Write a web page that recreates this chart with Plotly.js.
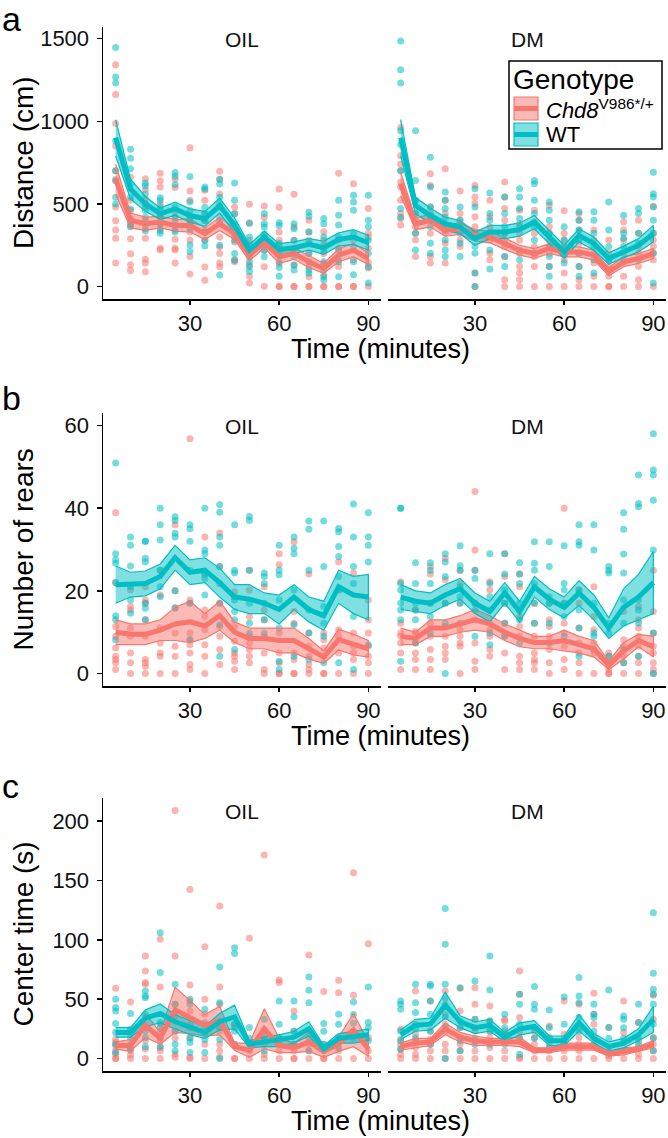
<!DOCTYPE html>
<html><head><meta charset="utf-8">
<script src="https://cdn.plot.ly/plotly-3.0.1.min.js"></script>
<style>html,body{margin:0;padding:0;background:#fff}#chart{width:668px;height:1138px}</style>
</head><body><div id="chart"></div>
<script>
// ---------- DATA ----------
const timeMin = [5,10,15,20,25,30,35,40,45,50,55,60,65,70,75,80,85,90];
const treatments = ["OIL","DM"];
const genotypes = ["Chd8<sup>V986*/+</sup>","WT"];

// Panel a: Distance (cm)
const distOilWT = [[1446,1268,1232,880,700,640,540,500],[830,776,712,620,540,470,380,362],[626,610,560,500,460,420,380,336],[538,520,480,460,420,380,340,322],[690,668,618,480,420,392,342,330],[666,512,460,420,380,350,252,212],[602,590,480,440,400,330,280,246],[648,620,540,500,420,380,250,70],[626,522,440,380,320,280,200,160],[382,300,260,220,180,150,120,92],[442,380,360,320,250,220,180],[386,370,260,200,150,116,62],[380,350,280,230,180,130,100],[450,426,330,260,200,150,100,80],[412,380,300,220,150,100,60,40],[522,432,372,300,220,150,60],[552,512,462,322,240,150,72],[552,402,362,280,200,120,22]];
const distOilMut = [[1342,1162,986,850,700,648,482,398,342,292,142],[662,522,460,412,366,290,198,132,98],[652,586,530,480,400,350,292,166,142,90],[686,640,602,498,430,380,352,232,222],[650,600,460,422,370,286,232,222,142],[840,578,522,400,380,330,280,182,76],[582,522,440,400,340,280,118,38],[698,650,560,480,400,300,240,200,142,120],[482,440,346,300,270,162,150],[498,386,280,230,130,62,22],[488,420,300,260,220,120,2],[590,480,330,280,250,140,0,0],[558,360,280,230,130,0,0],[402,330,280,200,120,60,0,0],[332,280,250,200,140,70,0,0],[686,282,232,162,122,0,0],[622,282,162,0,0],[472,322,300,232,142,112,0]];
const distDmWT = [[1486,1312,1232,942,860,700,472,420],[942,642,522,440,322,222],[782,602,482,430,362,262,202],[572,522,472,420,342,282,222,182],[482,402,322,262,182],[592,482,322,242,202,82,0],[566,442,402,322,222,106],[542,442,362,322,182,122],[592,542,472,412,362,222,162],[642,622,522,442,362,282,202],[512,462,402,322,242,182,122,62],[362,282,202,142],[452,402,342,282,202,122,62],[452,402,322,242,162,82],[512,342,242,162],[432,322,292,242,162],[472,442,322,262,162],[692,562,542,482,402,322,202,22]];
const distDmMut = [[962,792,742,702,632,602,522,442,412,372],[522,442,402,362,322,282,182],[682,612,482,442,402,322,182,142],[712,522,442,382,322,262,142],[578,442,402,362,282,242],[612,542,502,422,362,322,82,0],[522,422,362,282,202,162],[632,542,472,402,322,282,242,182,42,0],[462,382,322,282,202,122,82,42,0],[462,392,322,242,182,122,0],[492,362,322,282,242,202,122,0],[458,322,282,242,162,82,0],[442,402,342,262,202,122,42,0],[342,282,202,142,62,0],[282,202,162,122,62,0,0],[392,342,282,202,142,62,0],[402,322,242,202,122,42,0],[486,322,282,242,202,162,0]];
const distOilWTMean = [900,590,500,440,470,430,410,490,370,220,300,225,235,255,235,285,300,265];
const distOilWTSE   = [110,60,45,35,40,40,45,45,45,35,35,35,35,35,40,40,45,45];
const distOilMutMean = [650,400,380,390,370,370,320,380,320,190,270,180,200,150,110,190,220,170];
const distOilMutSE   = [90,45,40,35,35,40,35,40,35,35,35,40,35,35,30,40,40,35];
const distDmWTMean = [900,490,430,380,360,290,330,330,345,390,300,210,310,260,170,210,250,320];
const distDmWTSE   = [110,50,45,40,40,40,40,40,40,40,40,40,40,40,35,35,40,50];
const distDmMutMean = [620,380,400,340,350,310,300,260,220,200,230,210,210,190,90,150,170,200];
const distDmMutSE   = [70,35,40,35,35,35,35,35,30,30,30,30,30,30,25,30,30,30];

// Panel b: Number of rears
const rearOilWT = [[50.9,29,27.5,26.7,22,14,13,8.2],[33,31,26,21,17.8,14.6],[32,32,27.9,27,17,15.8,13],[40,36,32.3,25,21,18.6],[37.9,37,33.9,33,20,15.8],[36,35,32,25,17,8.2],[40,29.9,29,24.3,23,19],[40.9,39,33,31,25.9,21.8,17,11.8,4.2],[36,25,24.3,17.8,15,13,5.8],[38,37,25,17,12.2,9.8],[24.3,23.5,21.8,17,13,9.8],[31,25,23.9,17.8,11,3,1],[33,30.3,29,20.2,11.8,4.2],[36.9,34.9,25,15.4,9.8,3.4],[36.9,25.9,16.2,12.2,9,2.6],[35.1,34.3,30.7,28.3,23.5,20.2,2.6],[41,33,25.9,21.8,13.8,1],[38.9,33,31,27,7]];
const rearOilMut = [[38.9,22,11.4,9,6.2,4.2,3.4,2.6,1],[20.2,16.2,15.4,11,9,5,2.6,0],[21,17.8,17,13,9,3.4,2.6,1.8,0],[25,19,11,7.4,5,4.2,0],[36,20,16,9.8,6.6,4.2,0],[56.8,17.8,17,9.8,8.2,7,5,2.2,1],[33,23.9,15.4,13.8,10.6,7,4.2,0],[34,25.9,17,11.4,9,5.8,2.2],[19.8,18.6,11.4,7.8,5,4.2,3,1],[25,20.2,13.8,9,7.4,5.8,4.2,2.6],[21,15.4,13,9,5,1,0],[29,26.3,9.8,5,2.6,0,0],[31.9,15,12.2,5,3.4,0,0],[24.1,9.8,6.6,4.2,2.2,1,0],[9.8,8.2,6.2,4.2,0,0],[27,20.2,10.6,9,5,0],[24.3,9.8,6.6,5,3.4,0],[17.8,13,9.8,6.6,4.2,2.6,0]];
const rearDmWT = [[40,40,21.8,20.2,17,15.4,13,3],[26.8,21.8,17,15.4,13,7.4],[26.8,25,21.8,17,13.8,9.8],[29,27,23.5,17,12.2,0],[30.9,26.1,25,21,18.6,17,12.2],[25,23,17,15.4,9],[29,21.8,18.6,15.4,9.8,7],[29,24.1,20.2,17,12.2,9],[26.8,24.1,21.8,17,13,7.4],[31.9,26.7,25,21.8,17,12.2],[31.9,25.9,18.6,17,12.2,7.4],[30.9,21.8,20.2,17,13.8,9],[36,31.9,31,20.2,15.4,11,4.2],[36,29.9,17,9.8,9,5.8],[25.9,25,24.3,12.2,9.8,4.2],[38.9,34.9,28.9,24.3,17.8,12.2,5.8,2.6],[48,41.1,40.3,17.8,15.4,12.2,4.2],[58,49.2,48,41.9,29.9,9.8,0]];
const rearDmMut = [[22.2,12.2,9.8,9,7.4,5,1],[15.4,10.2,9.8,7.4,5,3.4,1],[25.9,24.1,17,12.2,9,5.8,3.4,1],[27.9,22.7,17,11.4,9,6.6,5,3.4],[25,21.8,17,10.6,9,7.4,6.6,0],[44,29.9,25,17,13,7.4,3,1],[22.2,20.2,12.2,10.6,9,5.8,4.2],[29,23.5,17,12.2,9,5,1],[24.1,21,13.8,11.4,9,4.2,2.6,1],[17,12.2,9,5,3.4,2.6,1],[17,13,11.4,9,5.8,2.6,0],[40,17,12.2,9.8,6.6,3.4,1],[20.2,17,11,7.4,5,2.6,0],[21,13.8,10.6,7.4,5,0],[5,4.2,2.6,1,0,0],[15,8.2,6.6,4.2,2.6,0],[16.2,13,11,9,6.6,4.2,2.6,0],[25,15,9.8,6.6,5,2.6,1,0]];
const rearOilWTMean = [21.5,21.5,21.8,23.5,28,24.5,25,22,18.5,18,17,15.5,18.5,15.5,14,21,19,18.5];
const rearOilWTSE   = [4.5,3,3,3,3,3,3,3.5,3,3.5,2.5,3.5,3,3,3.5,4,4.5,5.5];
const rearOilMutMean = [10,9.5,9.5,10.5,12,12.5,11.5,14,10,8.5,8.5,8,8,6,4,8.2,7,6];
const rearOilMutSE   = [3,2.5,2.5,2.5,4,5,3,3.5,2.5,2.5,2.5,3,3,2.5,1.5,2.5,2.5,2];
const rearDmWTMean = [18.5,17.5,17,19,20.5,17,15,19.5,15,21,18,16,19.5,16,11,16,18.5,22];
const rearDmWTSE   = [3,2.5,2.5,2.5,2.5,2.5,2.5,2.5,2.5,2.5,2.5,2.5,3,3,2.5,4.5,5.5,7.5];
const rearDmMutMean = [9,8.5,11,11,12,13,12,10,8.5,7.5,7.5,8,7,6,2,5.5,8,6.5];
const rearDmMutSE   = [2,1.5,2,2,2,2.5,2,2,2,1.5,1.5,2.5,2,2,1,2,1.5,2.5];

// Panel c: Center time (s)
const centOilWT = [[50,42.9,40.1,29.5,22,12,5],[37.9,24.7,17.7,12,8],[56.9,52.7,51.3,37.3,23.3,17.7,10],[106,72.4,30.3,26.1,17.7,10],[62.6,45.7,23,12,6.5],[50,45.7,26,17,13.5,5],[41.5,30.3,23,16,5],[77.1,47.1,26.1,16,0],[93.4,88.4,28.9,23,12],[26.1,17,8],[33.1,17,6.5],[48.5,28.9,17,12],[48.5,35.1,23,12],[68.7,57.5,47.1,17,6.5],[29.5,23,12],[37.3,28.9,17,9],[47.7,37,30,17],[60.3,30.3,26,15]];
const centOilMut = [[59.2,16.3,13.5,10.7,6.5,3.6,0,0],[47.7,23.8,9.3,6.5,3,0],[86.4,73.8,64,62.6,26,14.9,8,0],[100.4,60.3,28.9,23.3,14.9,9.3,6.5,0],[209,86.4,45.7,35.9,23,17,3.6,1],[142.5,62,48.5,40,28.9,17.7,1,0],[94.2,50,37.3,28,22,12,0],[128.5,60.3,45.7,23,12,6.5,1],[28.9,26.1,12,0,0],[101.3,12,6.5,0],[171.4,23.3,20.5,14.9,12,3.6,0],[66.2,64,17.7,12,6.5,0],[40.1,23,12,6.5,0,0],[87.2,23,12,6.5,0],[56.4,12,6.5,0,0],[65.9,55.5,17.7,6.5,0],[156.5,53.3,23,0],[96.8,17.7,6.5,0]];
const centDmWT = [[48.5,45.7,41.5,23.3,15,8],[62.6,47.1,38.7,25,17],[62.6,61.1,48.5,37.3,23,12],[126.5,96.2,62.6,51.3,35,26,0],[59.7,31.7,26,15,6.5],[65.4,33.1,26,17,12],[86.4,57.8,31.7,23,12],[37.3,26,20.5,12],[54.1,45.7,29,17,3.6],[60.6,45.7,41.5,26,17],[40.9,26.1,17,9],[51.9,28.9,17,10.5],[68.2,52.7,47.1,34.5,23],[45.7,37.3,34.5,23,12],[57.8,26.1,17,5],[35.9,33.1,26,17,6.5],[45.7,30.3,17,12],[122.9,71.8,58.3,54.1,45.7,29,17,6.5]];
const centDmMut = [[24.7,16.3,12,7.9,3.6,0],[56.9,28.9,20.5,14.9,9.3,3.6,0],[48.5,23.3,16.3,12,6.5,0],[56.9,45.7,37.3,28.9,23,12,6.5,0],[59.2,40.1,26.1,17.7,12,6.5,0],[59.7,45.7,33.1,23.3,14.9,6.5,0],[44.3,31.7,23.3,17.7,9.3,0],[33.1,31.7,23.3,17.7,6.5,0],[73.8,54.1,34.5,23.3,17.7,1,0],[23.3,17.7,12,6.5,0],[27.5,17.7,12,6.5,0],[48.5,20.5,12,6.5,0],[45.7,26,17.7,12,6.5,0],[55,37.3,28.9,17.7,9.3,0],[26.1,6.5,2.3,0],[48.5,21.9,13.5,6.5,0],[30.3,14.9,9.3,3.6,0],[53.3,33.1,17.7,12,6.5,0]];
const centOilWTMean = [22,22,34,38,31,26,22,31,35,12,14,15,18,25,8,17,18,20];
const centOilWTSE   = [4,4,7,8,6,6,5,7,10,3,4,5,5,6,3,4,5,5];
const centOilMutMean = [11,11,28,17,41,35,28,32,10,7,25,11,9,14,6,12,24,8];
const centOilMutSE   = [3,5,10,5,19,14,9,12,3,6,17,6,4,8,5,6,14,6];
const centDmWTMean = [20,28,29,45,31,26,28,18,25,27,15,15,30,17,10,13,20,33];
const centDmWTSE   = [4,5,5,11,5,5,5,4,5,5,4,4,7,4,4,4,5,11];
const centDmMutMean = [10,13,14,25,18,15,14,14,14,7,7,10,10,10,4,6,8,12];
const centDmMutSE   = [3,4,3,5,4,4,3,3,4,2,2,3,3,3,2,3,2,3];

const yTitles = ["Distance (cm)","Number of rears","Center time (s)"];
const panelLetters = ["a","b","c"];
const yTicks = [[0,500,1000,1500],[0,20,40,60],[0,50,100,150,200]];
const yRanges = [[-75,1570],[-3,63],[-10.5,219.5]];
const xTicks = [30,60,90];

// ---------- LAYOUT HELPERS ----------
const W = 668, H = 1138;
const RED = '#F8766D', TEAL = '#00BFC4';
const REDF = 'rgba(248,118,109,0.5)', TEALF = 'rgba(0,191,196,0.5)';
const FONT = 'Liberation Sans, Arial, Helvetica, sans-serif';
const px = x => x / W, py = y => 1 - y / H;
const rowPx = [[27,299],[413,686],[798,1071]];
const colPx = [[103,381],[388,666]];

const panels = [
  [ [distOilMut,distOilMutMean,distOilMutSE,distOilWT,distOilWTMean,distOilWTSE],
    [distDmMut,distDmMutMean,distDmMutSE,distDmWT,distDmWTMean,distDmWTSE] ],
  [ [rearOilMut,rearOilMutMean,rearOilMutSE,rearOilWT,rearOilWTMean,rearOilWTSE],
    [rearDmMut,rearDmMutMean,rearDmMutSE,rearDmWT,rearDmWTMean,rearDmWTSE] ],
  [ [centOilMut,centOilMutMean,centOilMutSE,centOilWT,centOilWTMean,centOilWTSE],
    [centDmMut,centDmMutMean,centDmMutSE,centDmWT,centDmWTMean,centDmWTSE] ]
];

const traces = [];
const layout = {
  width: W, height: H, margin: {l:0,r:0,t:0,b:0},
  paper_bgcolor: '#fff', plot_bgcolor: 'rgba(0,0,0,0)',
  showlegend: false, font: {family: FONT, color: '#000'},
  annotations: [], shapes: []
};

function pointsTrace(pts, color, xa, ya) {
  const x = [], y = [];
  pts.forEach((arr, i) => arr.forEach(v => { x.push(timeMin[i]); y.push(v); }));
  return {type:'scatter', mode:'markers', x, y, xaxis:xa, yaxis:ya, hoverinfo:'skip',
    marker:{color, size:7, opacity:0.55, line:{width:0}}};
}
function ribbonTrace(mean, se, color, fill, xa, ya) {
  const hi = mean.map((m,i) => m + se[i]);
  const lo = mean.map((m,i) => m - se[i]);
  return {type:'scatter', mode:'lines', xaxis:xa, yaxis:ya, hoverinfo:'skip',
    x: timeMin.concat(timeMin.slice().reverse()),
    y: hi.concat(lo.slice().reverse()),
    fill:'toself', fillcolor: fill, line:{color, width:1.2}};
}
function meanTrace(mean, color, xa, ya) {
  return {type:'scatter', mode:'lines', x: timeMin, y: mean, xaxis:xa, yaxis:ya, hoverinfo:'skip',
    line:{color, width:5}};
}

for (let r = 0; r < 3; r++) {
  for (let c = 0; c < 2; c++) {
    const k = r*2 + c + 1;
    const xa = 'x' + (k === 1 ? '' : k), ya = 'y' + (k === 1 ? '' : k);
    const xKey = 'xaxis' + (k === 1 ? '' : k), yKey = 'yaxis' + (k === 1 ? '' : k);
    const [mutPts, mutMean, mutSE, wtPts, wtMean, wtSE] = panels[r][c];
    traces.push(pointsTrace(mutPts, RED, xa, ya));
    traces.push(pointsTrace(wtPts, TEAL, xa, ya));
    traces.push(ribbonTrace(mutMean, mutSE, RED, REDF, xa, ya));
    traces.push(ribbonTrace(wtMean, wtSE, TEAL, TEALF, xa, ya));
    traces.push(meanTrace(mutMean, RED, xa, ya));
    traces.push(meanTrace(wtMean, TEAL, xa, ya));

    layout[xKey] = {
      domain: [px(colPx[c][0]), px(colPx[c][1])], anchor: ya,
      range: [0.75, 94.25], tickvals: xTicks, ticktext: xTicks.map(String),
      showline: true, linecolor: '#000', linewidth: 1.5, mirror: false,
      ticks: 'outside', ticklen: 4, tickwidth: 1.5, tickcolor: '#000',
      showgrid: false, zeroline: false, fixedrange: true,
      tickfont: {family: FONT, size: 22, color: '#111'}
    };
    const yAx = {
      domain: [py(rowPx[r][1]), py(rowPx[r][0])], anchor: xa,
      range: yRanges[r], tickvals: yTicks[r],
      showgrid: false, zeroline: false, fixedrange: true
    };
    if (c === 0) {
      Object.assign(yAx, {
        ticktext: yTicks[r].map(String),
        showline: true, linecolor: '#000', linewidth: 1.5,
        ticks: 'outside', ticklen: 5, tickwidth: 1.5, tickcolor: '#000',
        ticklabelstandoff: 3,
        tickfont: {family: FONT, size: 22, color: '#111'}
      });
    } else {
      Object.assign(yAx, {showline: false, ticks: '', showticklabels: false});
    }
    layout[yKey] = yAx;
    // strip label
    layout.annotations.push({text: treatments[c], xref:'paper', yref:'paper',
      x: px((colPx[c][0]+colPx[c][1])/2), y: py(rowPx[r][0] + 13),
      xanchor:'center', yanchor:'middle', showarrow:false, borderpad:0,
      font:{family:FONT, size:21, color:'#111'}});
  }
  // axis titles
  layout.annotations.push({text: yTitles[r], xref:'paper', yref:'paper',
    x: px(23), y: py((rowPx[r][0]+rowPx[r][1])/2), textangle:-90,
    xanchor:'center', yanchor:'middle', showarrow:false, borderpad:0,
    font:{family:FONT, size:28, color:'#000'}});
  layout.annotations.push({text: 'Time (minutes)', xref:'paper', yref:'paper',
    x: px(380), y: py(rowPx[r][1] + 50),
    xanchor:'center', yanchor:'middle', showarrow:false, borderpad:0,
    font:{family:FONT, size:27, color:'#000'}});
  // panel letter
  const letterY = [19, 398, 786][r];
  layout.annotations.push({text: panelLetters[r], xref:'paper', yref:'paper',
    x: px(1), y: py(letterY), xanchor:'left', yanchor:'middle', showarrow:false, borderpad:0,
    font:{family:FONT, size:34, color:'#000'}});
}

// ---------- LEGEND (drawn manually, ggplot style) ----------
const leg = {x0:509, x1:662, y0:61, y1:149};
layout.shapes.push({type:'rect', xref:'paper', yref:'paper',
  x0:px(leg.x0), x1:px(leg.x1), y0:py(leg.y1), y1:py(leg.y0),
  line:{color:'#000', width:1.5}, fillcolor:'#fff', layer:'above'});
layout.annotations.push({text:'Genotype', xref:'paper', yref:'paper',
  x:px(512), y:py(79), xanchor:'left', yanchor:'middle', showarrow:false, borderpad:0,
  font:{family:FONT, size:28, color:'#000'}});
const keyRows = [[97,120,RED,REDF],[123,146,TEAL,TEALF]];
const keyLabels = ['<i>Chd8</i><sup>V986*/+</sup>','WT'];
keyRows.forEach(([t,b,col,fill],i) => {
  layout.shapes.push({type:'rect', xref:'paper', yref:'paper',
    x0:px(514), x1:px(538), y0:py(b), y1:py(t),
    line:{color:col, width:1.2}, fillcolor:fill, layer:'above'});
  layout.shapes.push({type:'line', xref:'paper', yref:'paper',
    x0:px(514), x1:px(538), y0:py((t+b)/2), y1:py((t+b)/2),
    line:{color:col, width:5}, layer:'above'});
  layout.annotations.push({text:keyLabels[i], xref:'paper', yref:'paper',
    x:px(545), y:py((t+b)/2), xanchor:'left', yanchor:'middle', showarrow:false, borderpad:0,
    font:{family:FONT, size:22, color:'#000'}});
});

Plotly.newPlot('chart', traces, layout, {staticPlot:true, displayModeBar:false});
</script>
</body></html>
